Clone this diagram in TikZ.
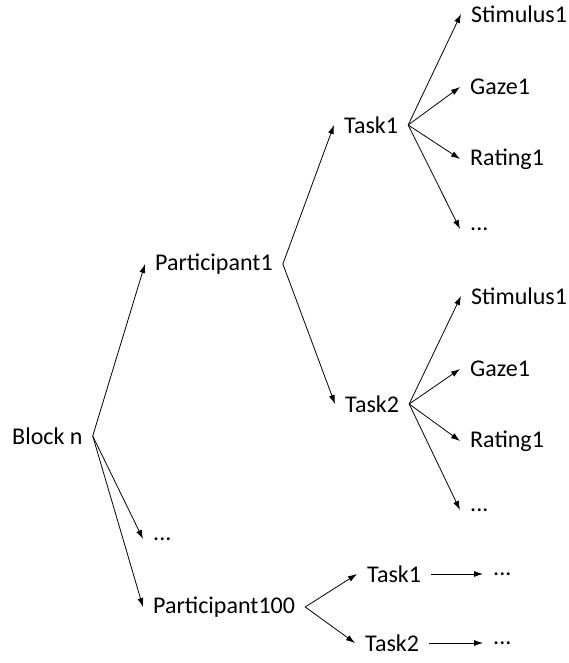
\documentclass[tikz,border=0pt]{standalone}
\usepackage{fontspec}
\setmainfont{Carlito}
\usetikzlibrary{arrows.meta}
\begin{document}
\begin{tikzpicture}[x=1pt,y=-1pt,
  lbl/.style={anchor=west,inner xsep=10pt,inner ysep=0pt,font=\fontsize{24}{28}\selectfont},
  dotlbl/.style={lbl,text height=2.4pt,text depth=0pt},
  edge/.style={-{Latex[length=9pt,width=6pt]},line width=0.8pt}]
\useasboundingbox (0,0) rectangle (568,663);
\node[lbl] (block) at (2,436) {Block n};
\node[lbl] (p1) at (145,264) {Participant1};
\node[lbl] (t1) at (334,125) {Task1};
\node[lbl] (s1a) at (461,14) {Stimulus1};
\node[lbl] (g1a) at (460,87) {Gaze1};
\node[lbl] (r1a) at (460,159) {Rating1};
\node[dotlbl] (d1a) at (460,229) {...};
\node[lbl] (t2) at (335,404) {Task2};
\node[lbl] (s1b) at (461,296) {Stimulus1};
\node[lbl] (g1b) at (460,369) {Gaze1};
\node[lbl] (r1b) at (460,441) {Rating1};
\node[dotlbl] (d1b) at (460,510) {...};
\node[dotlbl] (dots) at (143,539) {...};
\node[lbl] (p100) at (143,607) {Participant100};
\node[lbl] (t1c) at (357,574) {Task1};
\node[lbl] (t2c) at (355,643) {Task2};
\node[dotlbl] (d1c) at (483,574) {...};
\node[dotlbl] (d2c) at (483,643) {...};
\foreach \a/\b in {block/p1,block/dots,block/p100,p1/t1,p1/t2,
  t1/s1a,t1/g1a,t1/r1a,t1/d1a,t2/s1b,t2/g1b,t2/r1b,t2/d1b,
  p100/t1c,p100/t2c,t1c/d1c,t2c/d2c}
  \draw[edge] (\a.east) -- (\b.west);
\end{tikzpicture}
\end{document}
